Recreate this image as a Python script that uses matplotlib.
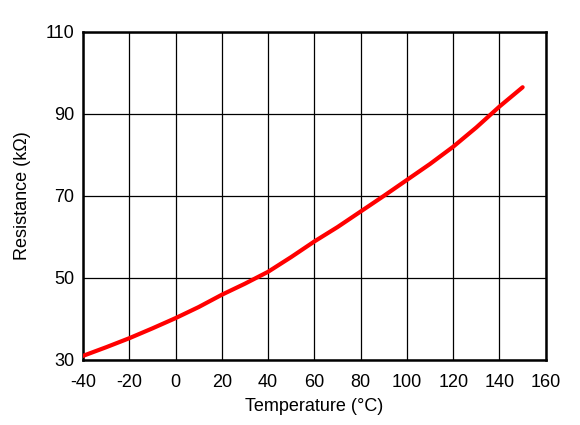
import matplotlib
matplotlib.use("Agg")
import matplotlib.pyplot as plt

plt.rcParams['font.family'] = ['Liberation Sans', 'DejaVu Sans']
plt.rcParams['axes.unicode_minus'] = False

# Resistance vs temperature
temp_c = [-40, -30, -20, -10, 0, 10, 20, 30, 40, 50, 60, 70, 80, 90, 100, 110, 120, 130, 140, 150]
res_kohm = [31.0, 33.1, 35.3, 37.7, 40.2, 42.9, 45.9, 48.6, 51.5, 55.1, 58.9, 62.4, 66.2, 70.0,
            73.9, 77.8, 82.0, 86.7, 91.8, 96.5]

x_ticks = [-40, -20, 0, 20, 40, 60, 80, 100, 120, 140, 160]
y_ticks = [30, 50, 70, 90, 110]

fig = plt.figure(figsize=(5.8, 4.25), dpi=100)
ax = fig.add_axes([0.143, 0.153, 0.798, 0.772])

ax.plot(temp_c, res_kohm, color='#ff0000', linewidth=3.0, solid_capstyle='round',
        solid_joinstyle='round', zorder=3)

ax.set_xlim(-40, 160)
ax.set_ylim(30, 110)
ax.set_xticks(x_ticks)
ax.set_yticks(y_ticks)
ax.grid(True, color='black', linewidth=0.9)
ax.tick_params(length=0, labelsize=13, pad=6)
ax.tick_params(axis='x', pad=10)

for s in ax.spines.values():
    s.set_linewidth(1.8)
    s.set_color('black')

ax.set_xlabel("Temperature (°C)", fontsize=13, labelpad=5)
ax.set_ylabel("Resistance (kΩ)", fontsize=13, labelpad=11)

fig.savefig("out.png", dpi=100)
